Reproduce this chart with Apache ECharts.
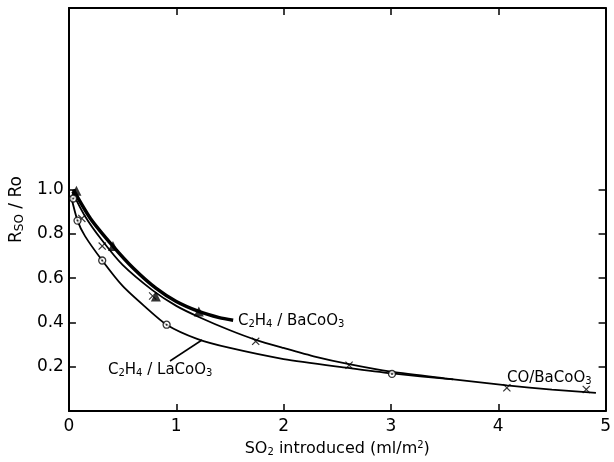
<!DOCTYPE html>
<html lang="en" style="height: 100%">
<head>
  <meta charset="utf-8">
  <title>Rso/Ro vs SO2 introduced</title>
</head>
<body style="height: 100%; margin: 0; background: #fff">
  <div id="container" style="width: 614px; height: 462px"></div>
  <script src="https://cdn.jsdelivr.net/npm/echarts@6/dist/echarts.min.js"></script>
  <script>
    // values: x = SO2 introduced (ml/m2), y = Rso/Ro
    var xTicks = [0, 1, 2, 3, 4, 5];
    var yTicks = [0.2, 0.4, 0.6, 0.8, 1.0];

    // measured points
    var laCoPoints = [[0.04, 0.96], [0.08, 0.86], [0.31, 0.68], [0.91, 0.39], [3.01, 0.168]];
    var baCoPoints = [[0.07, 0.995], [0.41, 0.745], [0.81, 0.517], [1.21, 0.45]];
    var coPoints = [[0.12, 0.87], [0.31, 0.745], [0.78, 0.52], [1.74, 0.315], [2.61, 0.207], [4.08, 0.105], [4.82, 0.098]];

    // hand drawn fitted curves
    var laCoCurve = [[0.02, 0.97], [0.08, 0.86], [0.15, 0.79], [0.31, 0.68], [0.5, 0.565], [0.7, 0.475],
      [0.91, 0.39], [1.2, 0.325], [1.5, 0.285], [2.0, 0.235], [2.6, 0.195], [3.01, 0.17], [3.58, 0.143]];
    var baCoCurve = [[0.04, 1.0], [0.2, 0.87], [0.41, 0.745], [0.6, 0.645], [0.81, 0.555], [1.0, 0.495],
      [1.21, 0.45], [1.4, 0.422], [1.53, 0.41]];
    var coCurve = [[0.03, 0.99], [0.15, 0.88], [0.31, 0.77], [0.5, 0.66], [0.78, 0.545], [1.0, 0.475],
      [1.21, 0.425], [1.5, 0.365], [1.74, 0.322], [2.0, 0.285], [2.3, 0.245], [2.61, 0.212], [3.0, 0.178],
      [3.5, 0.148], [4.08, 0.116], [4.5, 0.097], [4.91, 0.082]];

    var FONT = 'DejaVu Sans';
    var crossPath = 'path://M0,1L1,0L5,4L9,0L10,1L6,5L10,9L9,10L5,6L1,10L0,9L4,5Z';
    var rich = {
      n: { fontFamily: FONT, fontSize: 15, color: '#000' },
      s: { fontFamily: FONT, fontSize: 10, color: '#000', padding: [7, 0, 0, 0] },
      p: { fontFamily: FONT, fontSize: 10, color: '#000', padding: [0, 0, 7, 0] }
    };

    var dom = document.getElementById('container');
    var myChart = echarts.init(dom, null, { renderer: 'canvas' });

    var axisLine = { show: true, onZero: false, lineStyle: { color: '#000', width: 2 } };
    var innerTicksX = { show: true, inside: true, length: 7, customValues: [1, 2, 3, 4], lineStyle: { color: '#000', width: 1.5 } };
    var innerTicksY = { show: true, inside: true, length: 7, customValues: yTicks, lineStyle: { color: '#000', width: 1.5 } };

    var option = {
      animation: false,
      backgroundColor: '#fff',
      grid: { left: 66, right: 1, top: 8, bottom: 48 },
      xAxis: [
        {
          type: 'value', min: 0, max: 5, interval: 1,
          axisLine: axisLine, axisTick: innerTicksX, splitLine: { show: false },
          axisLabel: { customValues: xTicks, color: '#000', fontFamily: FONT, fontSize: 17, margin: 7 },
          name: '{n|SO}{s|2}{n| introduced (ml/m}{p|2}{n|)}',
          nameLocation: 'middle', nameGap: 22,
          nameTextStyle: { rich: { n: { fontFamily: FONT, fontSize: 16, color: '#000' }, s: rich.s, p: rich.p } }
        },
        {
          type: 'value', position: 'top', min: 0, max: 5, interval: 1,
          axisLine: axisLine, axisTick: innerTicksX, axisLabel: { show: false }, splitLine: { show: false }
        }
      ],
      yAxis: [
        {
          type: 'value', min: 0, max: 1.82, interval: 0.2,
          axisLine: axisLine, axisTick: innerTicksY, splitLine: { show: false },
          axisLabel: {
            customValues: yTicks, color: '#000', fontFamily: FONT, fontSize: 17, margin: 5,
            formatter: function (v) { return v.toFixed(1); }
          },
          name: '{n|R}{s|SO}{n| / Ro}',
          nameLocation: 'middle', nameGap: 40,
          nameTextStyle: { rich: { n: { fontFamily: FONT, fontSize: 17, color: '#000' }, s: { fontFamily: FONT, fontSize: 12, color: '#000', padding: [7, 0, 0, 0] } } }
        },
        {
          type: 'value', position: 'right', min: 0, max: 1.82, interval: 0.2,
          axisLine: axisLine, axisTick: innerTicksY, axisLabel: { show: false }, splitLine: { show: false }
        }
      ],
      series: [
        {
          name: 'C2H4/LaCoO3 curve', type: 'line', data: laCoCurve, symbol: 'none',
          smooth: 0.25, lineStyle: { color: '#000', width: 1.8 }, z: 2
        },
        {
          name: 'CO/BaCoO3 curve', type: 'line', data: coCurve, symbol: 'none',
          smooth: 0.25, lineStyle: { color: '#000', width: 1.8 }, z: 2
        },
        {
          name: 'C2H4/BaCoO3 curve', type: 'line', data: baCoCurve, symbol: 'none',
          smooth: 0.25, lineStyle: { color: '#000', width: 3.5 }, z: 3
        },
        {
          name: 'C2H4/BaCoO3', type: 'scatter', data: baCoPoints, symbol: 'triangle', symbolSize: 10,
          itemStyle: { color: '#000' }, z: 5
        },
        {
          name: 'CO/BaCoO3', type: 'scatter', data: coPoints, symbol: crossPath, symbolSize: 8,
          itemStyle: { color: '#000' }, z: 5
        },
        {
          name: 'C2H4/LaCoO3', type: 'scatter', data: laCoPoints, symbol: 'circle', symbolSize: 7,
          itemStyle: { color: '#fff', borderColor: '#000', borderWidth: 1.3 }, z: 6
        },
        {
          name: 'C2H4/LaCoO3 dot', type: 'scatter', data: laCoPoints, symbol: 'circle', symbolSize: 2,
          itemStyle: { color: '#000' }, z: 7
        }
      ],
      graphic: [
        {
          type: 'text', x: 238, y: 321,
          style: { text: '{n|C}{s|2}{n|H}{s|4}{n| / BaCoO}{s|3}', rich: rich, verticalAlign: 'middle' }
        },
        {
          type: 'text', x: 108, y: 370,
          style: { text: '{n|C}{s|2}{n|H}{s|4}{n| / LaCoO}{s|3}', rich: rich, verticalAlign: 'middle' }
        },
        {
          type: 'text', x: 507, y: 378,
          style: { text: '{n|CO/BaCoO}{s|3}', rich: rich, verticalAlign: 'middle' }
        },
        {
          type: 'line', shape: { x1: 202, y1: 340, x2: 170, y2: 361 },
          style: { stroke: '#000', lineWidth: 1.5 }
        }
      ]
    };

    myChart.setOption(option);
    window.addEventListener('resize', myChart.resize);
  </script>
</body>
</html>
